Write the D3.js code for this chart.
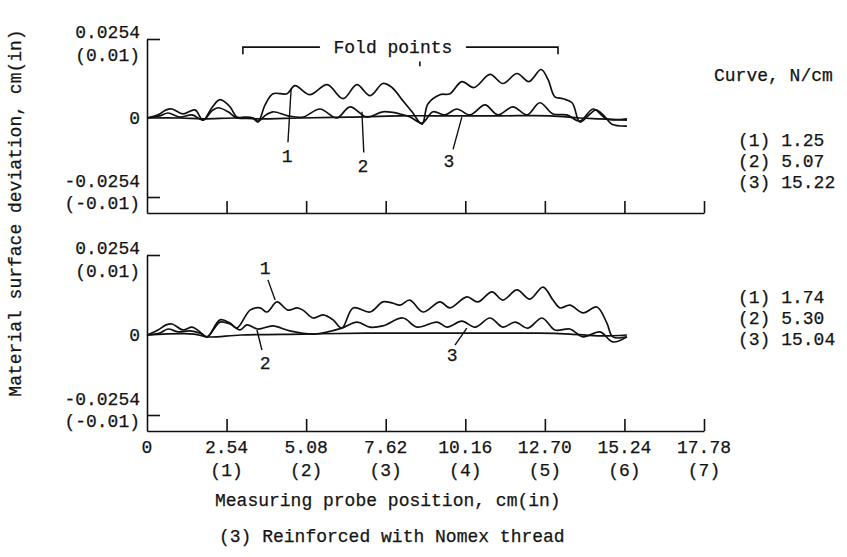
<!DOCTYPE html>
<html>
<head>
<meta charset="utf-8">
<script src="https://cdn.jsdelivr.net/npm/d3@7"></script>
<style>
body { margin: 0; background: #fff; }
text { font-family: "Liberation Mono", monospace; font-size: 18px; fill: #141414; stroke: #141414; stroke-width: 0.25; }
.ax path, .ax line, .ax2 { stroke: #111; stroke-width: 1.6; fill: none; }
.crv { stroke: #111; stroke-width: 1.7; fill: none; }
.lead { stroke: #111; stroke-width: 1.4; }
</style>
</head>
<body>
<svg width="847" height="557"></svg>
<script>
// x ticks (cm) and their labels
const xTicks = [0, 2.54, 5.08, 7.62, 10.16, 12.70, 15.24, 17.78];
const xTickCm = ["0", "2.54", "5.08", "7.62", "10.16", "12.70", "15.24", "17.78"];
const xTickIn = ["", "(1)", "(2)", "(3)", "(4)", "(5)", "(6)", "(7)"];

// y ticks (cm) and their labels
const yTicks = [0.0254, 0, -0.0254];
const yTickCm = ["0.0254", "0", "-0.0254"];
const yTickIn = ["(0.01)", "", "(-0.01)"];

// legends
const topLegend = ["(1) 1.25", "(2) 5.07", "(3) 15.22"];
const bottomLegend = ["(1) 1.74", "(2) 5.30", "(3) 15.04"];

// top panel curves [position cm, deviation cm]
const top1 = [[0,0],[0.35,0.0010],[0.61,0.0026],[0.80,0.0029],[1.15,0.0013],[1.53,0.0026],[1.79,-0.0007],
  [2.07,0.0033],[2.33,0.0059],[2.65,0.0036],[2.87,0.0003],[3.13,0.0003],[3.38,0],[3.54,-0.0013],[3.77,0.0042],
  [4.02,0.0078],[4.47,0.0078],[4.72,0.0104],[5.20,0.0075],[5.75,0.0107],[6.26,0.0062],[6.70,0.0107],[7.12,0.0072],
  [7.53,0.0111],[7.82,0.0098],[8.14,0.0059],[8.46,0.0020],[8.78,-0.0020],[8.97,0.0046],[9.35,0.0075],[9.67,0.0078],
  [10.05,0.0117],[10.44,0.0098],[10.95,0.0140],[11.36,0.0111],[11.81,0.0143],[12.19,0.0117],[12.58,0.0156],
  [12.80,0.0124],[13.02,0.0068],[13.28,0.0062],[13.57,0.0049],[13.82,-0.0013],[14.14,0.0013],[14.33,0.0026],
  [14.59,0.0007],[14.84,-0.0020],[15.32,-0.0026]];
const top2 = [[0,0],[0.41,0.0007],[0.67,0.0016],[1.05,0.0003],[1.44,0.0010],[1.79,-0.0007],[2.07,0.0023],
  [2.27,0.0033],[2.59,0.0020],[2.87,0],[3.38,0],[3.54,-0.0010],[3.80,0.0010],[4.02,0.0020],[4.50,0.0007],
  [4.98,0.0003],[5.52,0.0029],[6.06,0],[6.48,0.0036],[7.02,0.0003],[7.53,0.0020],[8.08,0.0013],[8.40,0.0003],
  [8.78,-0.0016],[9.13,0.0020],[9.51,0.0010],[9.89,0.0029],[10.31,0.0010],[10.79,0.0042],[11.20,0.0010],
  [11.68,0.0036],[12.13,0.0010],[12.54,0.0049],[12.96,0.0013],[13.40,0.0010],[13.82,-0.0010],[14.24,0.0029],
  [14.68,-0.0003],[15.32,-0.0003]];
const top3 = [[0,0],[1.05,0],[1.79,-0.0003],[2.87,0],[3.54,-0.0003],[4.88,0],[6.48,0.0003],[8.08,0.0007],
  [9.67,0.0007],[11.27,0.0007],[12.86,0.0007],[13.82,0],[14.46,-0.0003],[15.32,-0.0007]];

// bottom panel curves
const bot1 = [[0,0],[0.35,0.0016],[0.61,0.0032],[0.80,0.0035],[1.15,0.0016],[1.44,0.0025],[1.69,0.0010],
  [1.92,-0.0006],[2.33,0.0048],[2.65,0.0038],[2.87,0.0022],[3.29,0.0079],[3.61,0.0086],[3.83,0.0073],
  [4.15,0.0105],[4.50,0.0079],[4.79,0.0086],[4.98,0.0079],[5.30,0.0054],[5.62,0.0064],[5.94,0.0048],
  [6.22,0.0022],[6.58,0.0086],[7.12,0.0073],[7.53,0.0105],[7.82,0.0102],[8.08,0.0095],[8.39,0.0111],
  [8.81,0.0073],[9.35,0.0105],[9.67,0.0086],[10.21,0.0121],[10.56,0.0105],[11.01,0.0137],[11.36,0.0111],
  [11.81,0.0143],[12.22,0.0114],[12.64,0.0152],[12.96,0.0111],[13.18,0.0086],[13.50,0.0095],[13.92,0.0070],
  [14.36,0.0089],[14.68,0.0038],[14.87,-0.0006],[15.32,-0.0006]];
const bot2 = [[0,0],[0.41,0.0006],[0.67,0.0019],[0.99,0.0010],[1.37,0.0013],[1.69,0.0006],[1.92,-0.0006],
  [2.33,0.0041],[2.65,0.0035],[2.97,0.0016],[3.19,0.0032],[3.54,0.0019],[4.02,0.0029],[4.56,0.0013],
  [5.33,0.0003],[6.22,0.0022],[6.70,0.0041],[7.12,0.0025],[7.53,0.0029],[8.17,0.0054],[8.62,0.0025],
  [9.26,0.0041],[9.58,0.0025],[10.05,0.0044],[10.47,0.0025],[10.95,0.0054],[11.36,0.0025],[11.75,0.0041],
  [12.16,0.0022],[12.61,0.0054],[13.02,0.0016],[13.50,0.0019],[13.92,-0.0006],[14.46,0.0010],[14.87,-0.0022],
  [15.32,-0.0006]];
const bot3 = [[0,0],[1.5,0.0003],[1.92,-0.0006],[3.0,0],[5.0,0.0003],[7.0,0.0006],[9.0,0.0006],[11.0,0.0006],
  [12.5,0.0006],[13.5,0.0003],[14.5,-0.0003],[15.32,0]];

// curve number call-outs: [label, leader start x,y, leader end x,y, text x,y]
const topNotes = [["1", 4.60, 0.0094, 4.50, -0.0078, 4.47, -0.0120],
  ["2", 6.86, 0.0020, 6.92, -0.0111, 6.89, -0.0153],
  ["3", 10.05, 0.0003, 9.77, -0.0101, 9.64, -0.0137]];
const botNotes = [["1", 4.09, 0.0111, 3.86, 0.0175, 3.77, 0.0213],
  ["2", 3.51, 0.0016, 3.67, -0.0048, 3.77, -0.0089],
  ["3", 10.21, 0.0022, 9.83, -0.0032, 9.74, -0.0064]];

// fold points bracket (cm along x, cm deviation on top panel)
const foldSpan = [3.06, 13.12];
const foldGap = [5.52, 10.18];
const foldLevel = [0.0228, 0.0205];
const foldMark = [8.71, 0.0182, 0.0166];

const svg = d3.select("svg");
const x = d3.scaleLinear().domain([0, 17.78]).range([147, 704]);

const panels = [
  { y: d3.scaleLinear().domain([-0.0254, 0.0254]).range([197, 39]), base: 213,
    curves: [top1, top2, top3], notes: topNotes, legend: topLegend, legendY: 140 },
  { y: d3.scaleLinear().domain([-0.0254, 0.0254]).range([415, 255]), base: 431,
    curves: [bot1, bot2, bot3], notes: botNotes, legend: bottomLegend, legendY: 297 }
];

panels.forEach((p, i) => {
  const g = svg.append("g");

  // x axis with ticks pointing up
  g.append("g").attr("class", "ax")
    .attr("transform", `translate(0,${p.base})`)
    .call(d3.axisBottom(x).tickValues(xTicks.slice(1)).tickSize(-12).tickSizeOuter(0).tickFormat(""));

  // y axis running down to the x axis, ticks pointing right
  const yAx = p.y.copy().domain([p.y.invert(p.base), 0.0254]).range([p.base, p.y(0.0254)]);
  g.append("g").attr("class", "ax")
    .attr("transform", `translate(${x(0)},0)`)
    .call(d3.axisLeft(yAx).tickValues([0.0254, -0.0254]).tickSize(-13).tickSizeOuter(0).tickFormat(""));

  // y tick labels, two lines each
  yTicks.forEach((v, k) => {
    const yy = p.y(v);
    if (v === 0) {
      g.append("text").attr("x", 140).attr("y", yy).attr("dy", "0.35em")
        .attr("text-anchor", "end").text(yTickCm[k]);
    } else {
      const off = v > 0 ? [-7, 16] : [-16, 6];
      g.append("text").attr("x", 140).attr("y", yy + off[0]).attr("dy", "0.35em")
        .attr("text-anchor", "end").text(yTickCm[k]);
      g.append("text").attr("x", 140).attr("y", yy + off[1]).attr("dy", "0.35em")
        .attr("text-anchor", "end").text(yTickIn[k]);
    }
  });

  // curves
  const line = d3.line().x(d => x(d[0])).y(d => p.y(d[1])).curve(d3.curveCatmullRom.alpha(0.5));
  g.selectAll(".crv").data(p.curves).enter().append("path")
    .attr("class", "crv").attr("d", line);

  // call-outs
  const n = g.selectAll(".note").data(p.notes).enter().append("g");
  n.append("line").attr("class", "lead")
    .attr("x1", d => x(d[1])).attr("y1", d => p.y(d[2]))
    .attr("x2", d => x(d[3])).attr("y2", d => p.y(d[4]));
  n.append("text").attr("x", d => x(d[5])).attr("y", d => p.y(d[6])).attr("dy", "0.35em")
    .attr("text-anchor", "middle").text(d => d[0]);

  // legend
  if (i === 0) {
    g.append("text").attr("x", 714).attr("y", 75).attr("dy", "0.35em").text("Curve, N/cm");
  }
  g.selectAll(".lg").data(p.legend).enter().append("text")
    .attr("x", 738).attr("y", (d, k) => p.legendY + k * 21).attr("dy", "0.35em").text(d => d);
});

// fold points bracket on the top panel
const yt = panels[0].y;
const bracket = svg.append("g");
bracket.append("path").attr("class", "ax2")
  .attr("d", `M${x(foldSpan[0])},${yt(foldLevel[1])}V${yt(foldLevel[0])}H${x(foldGap[0])}`);
bracket.append("path").attr("class", "ax2")
  .attr("d", `M${x(foldGap[1])},${yt(foldLevel[0])}H${x(foldSpan[1])}V${yt(foldLevel[1])}`);
bracket.append("line").attr("class", "ax2")
  .attr("x1", x(foldMark[0])).attr("x2", x(foldMark[0]))
  .attr("y1", yt(foldMark[1])).attr("y2", yt(foldMark[2]));
bracket.append("text").attr("x", (x(foldGap[0]) + x(foldGap[1])) / 2).attr("y", yt(foldLevel[0]))
  .attr("dy", "0.35em").attr("text-anchor", "middle").text("Fold points");

// x tick labels under the lower panel
const xl = svg.append("g");
xl.selectAll(".cm").data(xTicks).enter().append("text")
  .attr("x", d => x(d)).attr("y", 447).attr("dy", "0.35em").attr("text-anchor", "middle")
  .text((d, k) => xTickCm[k]);
xl.selectAll(".in").data(xTicks).enter().append("text")
  .attr("x", d => x(d)).attr("y", 470).attr("dy", "0.35em").attr("text-anchor", "middle")
  .text((d, k) => xTickIn[k]);

// titles
svg.append("text").attr("x", 215).attr("y", 500).attr("dy", "0.35em")
  .text("Measuring probe position, cm(in)");
svg.append("text").attr("x", 219).attr("y", 536).attr("dy", "0.35em")
  .text("(3) Reinforced with Nomex thread");
svg.append("text").attr("transform", "translate(15,213) rotate(-90)").attr("dy", "0.35em")
  .attr("text-anchor", "middle").text("Material surface deviation, cm(in)");
</script>
</body>
</html>
